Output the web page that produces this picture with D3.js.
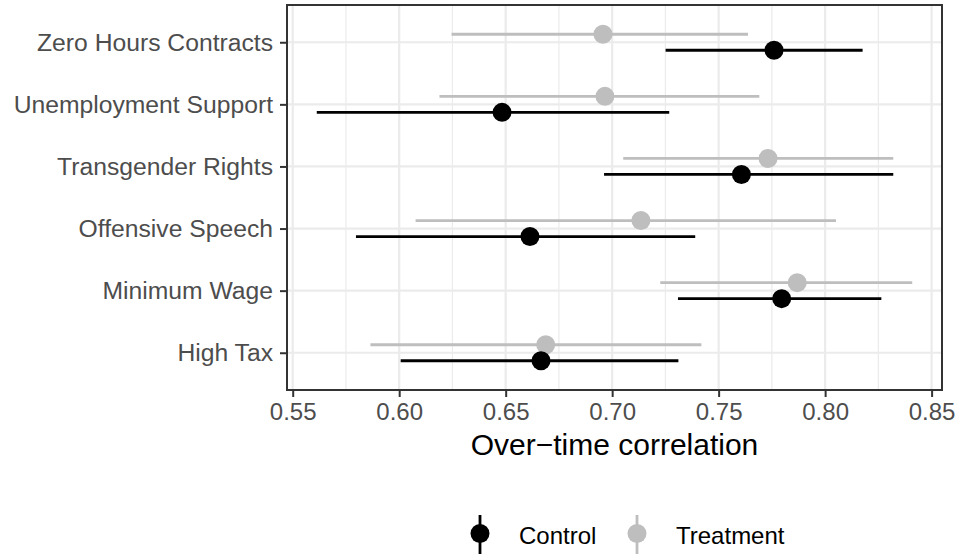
<!DOCTYPE html>
<html>
<head>
<meta charset="utf-8">
<script src="https://cdn.jsdelivr.net/npm/d3@7"></script>
<style>
  html, body { margin: 0; padding: 0; background: #ffffff; }
  svg { display: block; font-family: "Liberation Sans", Arial, sans-serif; }
</style>
</head>
<body>
<svg id="chart" width="959" height="554"></svg>
<script>
// Issues, top to bottom
const issues = ["Zero Hours Contracts", "Unemployment Support", "Transgender Rights",
                "Offensive Speech", "Minimum Wage", "High Tax"];

// Over-time correlation estimates with interval bounds
const controlEst   = [0.7760, 0.6483, 0.7607, 0.6614, 0.7796, 0.6666];
const controlLow   = [0.7251, 0.5613, 0.6962, 0.5797, 0.7309, 0.6007];
const controlHigh  = [0.8176, 0.7268, 0.8320, 0.7390, 0.8264, 0.7311];

const treatEst     = [0.6957, 0.6966, 0.7732, 0.7135, 0.7869, 0.6688];
const treatLow     = [0.6246, 0.6189, 0.7052, 0.6077, 0.7226, 0.5865];
const treatHigh    = [0.7638, 0.7691, 0.8320, 0.8051, 0.8409, 0.7419];

const xTicks = [0.55, 0.60, 0.65, 0.70, 0.75, 0.80, 0.85];
const groups = ["Control", "Treatment"];
const groupColors = ["#000000", "#bebebe"];

const svg = d3.select("#chart");
const panel = { left: 287, right: 942, top: 5, bottom: 390 };

// Continuous x with 5% padding on each side of the data range
const allVals = controlLow.concat(controlHigh, treatLow, treatHigh);
const lo = d3.min(allVals), hi = d3.max(allVals);
const pad = (hi - lo) * 0.05;
const x = d3.scaleLinear().domain([lo - pad, hi + pad]).range([panel.left, panel.right]);

// Discrete y with 0.6 units of padding at each end
const y = d3.scalePoint().domain(issues).range([panel.top, panel.bottom]).padding(0.6);

const dodge = 8;
const rows = issues.map((name, i) => [
  { name, g: 0, est: controlEst[i], low: controlLow[i], high: controlHigh[i] },
  { name, g: 1, est: treatEst[i], low: treatLow[i], high: treatHigh[i] }
]).flat();
const yPos = d => y(d.name) + (d.g === 0 ? dodge : -dodge);

// Panel background and grid
svg.append("rect").attr("x", panel.left).attr("y", panel.top)
  .attr("width", panel.right - panel.left).attr("height", panel.bottom - panel.top)
  .attr("fill", "#ffffff");

const minorTicks = d3.range(xTicks.length - 1).map(i => (xTicks[i] + xTicks[i + 1]) / 2);
const grid = svg.append("g");
grid.selectAll("line.minor").data(minorTicks).join("line")
  .attr("x1", d => x(d)).attr("x2", d => x(d))
  .attr("y1", panel.top).attr("y2", panel.bottom)
  .attr("stroke", "#ebebeb").attr("stroke-width", 1.2);
grid.selectAll("line.majx").data(xTicks).join("line")
  .attr("x1", d => x(d)).attr("x2", d => x(d))
  .attr("y1", panel.top).attr("y2", panel.bottom)
  .attr("stroke", "#ebebeb").attr("stroke-width", 2.2);
grid.selectAll("line.majy").data(issues).join("line")
  .attr("x1", panel.left).attr("x2", panel.right)
  .attr("y1", d => y(d)).attr("y2", d => y(d))
  .attr("stroke", "#ebebeb").attr("stroke-width", 2.2);

// Intervals and points: treatment first so control sits on top
const order = [1, 0];
order.forEach(g => {
  const sub = rows.filter(d => d.g === g);
  svg.append("g").selectAll("line").data(sub).join("line")
    .attr("x1", d => x(d.low)).attr("x2", d => x(d.high))
    .attr("y1", yPos).attr("y2", yPos)
    .attr("stroke", groupColors[g]).attr("stroke-width", 2.8);
  svg.append("g").selectAll("circle").data(sub).join("circle")
    .attr("cx", d => x(d.est)).attr("cy", yPos).attr("r", 9.5)
    .attr("fill", groupColors[g]);
});

// Panel border
svg.append("rect").attr("x", panel.left).attr("y", panel.top)
  .attr("width", panel.right - panel.left).attr("height", panel.bottom - panel.top)
  .attr("fill", "none").attr("stroke", "#333333").attr("stroke-width", 2);

// Axes
const xAxis = d3.axisBottom(x).tickValues(xTicks).tickFormat(d3.format(".2f"))
  .tickSize(7).tickPadding(6);
const gx = svg.append("g").attr("transform", `translate(0,${panel.bottom})`).call(xAxis);
gx.select(".domain").remove();
gx.selectAll(".tick line").attr("stroke", "#333333").attr("stroke-width", 2);
gx.selectAll(".tick text").attr("fill", "#4d4d4d").attr("font-size", 24)
  .attr("font-family", "Liberation Sans, Arial, sans-serif");

const yAxis = d3.axisLeft(y).tickSize(7).tickPadding(7);
const gy = svg.append("g").attr("transform", `translate(${panel.left},0)`).call(yAxis);
gy.select(".domain").remove();
gy.selectAll(".tick line").attr("stroke", "#333333").attr("stroke-width", 2);
gy.selectAll(".tick text").attr("fill", "#4d4d4d").attr("font-size", 24.7)
  .attr("font-family", "Liberation Sans, Arial, sans-serif");

// Axis title
svg.append("text").attr("x", (panel.left + panel.right) / 2).attr("y", 455)
  .attr("text-anchor", "middle").attr("font-size", 30).attr("fill", "#000000")
  .text("Over\u2212time correlation");

// Legend
const legendKeys = [480, 637];
const legend = svg.append("g");
groups.forEach((name, g) => {
  const cx = legendKeys[g];
  legend.append("line").attr("x1", cx).attr("x2", cx).attr("y1", 515).attr("y2", 554)
    .attr("stroke", groupColors[g]).attr("stroke-width", 2.8);
  legend.append("circle").attr("cx", cx).attr("cy", 533.5).attr("r", 9.5)
    .attr("fill", groupColors[g]);
  legend.append("text").attr("x", cx + 39).attr("y", 544)
    .attr("font-size", 24).attr("fill", "#000000").text(name);
});
</script>
</body>
</html>
